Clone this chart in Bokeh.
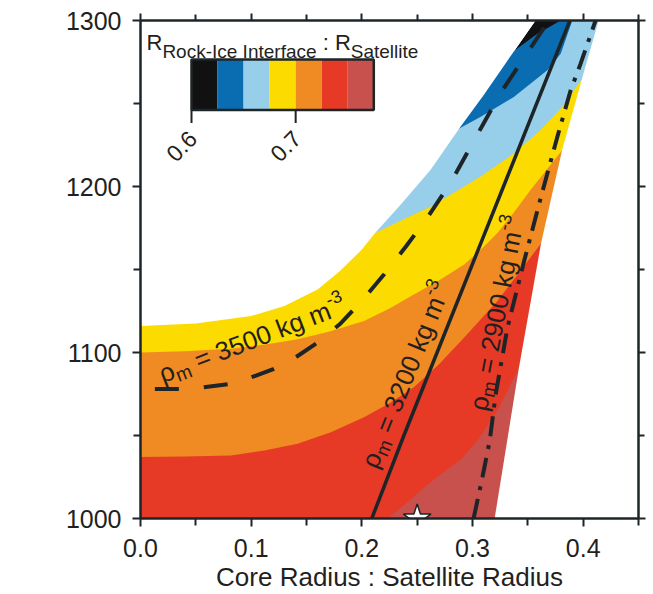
import math
from bokeh.plotting import figure
from bokeh.models import Label, FixedTicker, NumeralTickFormatter, LinearAxis
from bokeh.embed import file_html
from bokeh.resources import INLINE

# ---------------- data ----------------
x_major_ticks = [0.0, 0.1, 0.2, 0.3, 0.4]
x_minor_ticks = [0.05, 0.15, 0.25, 0.35, 0.45]
y_major_ticks = [1000, 1100, 1200, 1300]
y_minor_ticks = [1050, 1150, 1250]

levels = [0.6, 0.625, 0.65, 0.675, 0.7, 0.725, 0.75, 0.775]
band_colors = ["#111111", "#0a6cb1", "#97cfeb", "#fcdb00", "#f08a22", "#e63a27", "#c8504d"]
colorbar_tick_values = [0.6, 0.7]
colorbar_tick_labels = ["0.6", "0.7"]

# edge of the computed domain (upper-left) and right edge
outer_x = [0.0, 0.05, 0.10, 0.13, 0.16, 0.18, 0.20, 0.212, 0.235, 0.262, 0.288, 0.31, 0.338, 0.357]
outer_y = [1116, 1117.5, 1122, 1128, 1138, 1149, 1162, 1172, 1189, 1210, 1235, 1255, 1282, 1300]
right_x = [0.320, 0.342, 0.362, 0.381, 0.399, 0.414]
right_y = [1000, 1091, 1166, 1222, 1265, 1300]

# contour boundaries (value increases below/right of each)
b625_x = [0.338, 0.3586, 0.3797]
b625_y = [1282, 1292, 1300]
b650_x = [0.288, 0.3075, 0.3376, 0.3676, 0.3797, 0.3902]
b650_y = [1235, 1242, 1254, 1270, 1280, 1300]
b675_x = [0.212, 0.237, 0.2624, 0.285, 0.3075, 0.3376, 0.3616, 0.3812, 0.3992]
b675_y = [1172, 1180, 1188, 1197, 1206, 1220, 1234, 1248, 1265]
b700_x = [0.0, 0.04, 0.082, 0.12, 0.142, 0.17, 0.202, 0.225, 0.247, 0.27, 0.2925, 0.31, 0.3225, 0.337, 0.3526, 0.3812]
b700_y = [1100, 1100.8, 1102.2, 1105.5, 1108, 1112.5, 1119, 1126.5, 1135, 1143.5, 1153, 1163.5, 1172, 1184, 1198, 1222]
b725_x = [0.0, 0.04, 0.082, 0.112, 0.142, 0.172, 0.202, 0.225, 0.247, 0.27, 0.2925, 0.3075, 0.3225, 0.342, 0.3622]
b725_y = [1037, 1037.3, 1038, 1041, 1045, 1052, 1061, 1069.5, 1079, 1093, 1109, 1120, 1131, 1148, 1166]
b750_x = [0.223, 0.238, 0.2534, 0.27, 0.2895, 0.3045, 0.3225, 0.3421]
b750_y = [1000, 1008, 1017, 1026, 1035.5, 1047, 1065, 1091]

# mantle-density curves
rho3500_x = [0.013, 0.035, 0.057, 0.080, 0.100, 0.120, 0.140, 0.160, 0.180, 0.200, 0.220,
             0.240, 0.260, 0.280, 0.295, 0.310, 0.325, 0.340, 0.355, 0.369]
rho3500_y = [1078, 1078, 1079, 1081, 1085, 1090, 1097, 1106, 1117, 1131, 1147,
             1164, 1182, 1202, 1220, 1238, 1256, 1271, 1286, 1300]
rho3200_x = [0.209, 0.238, 0.268, 0.298, 0.328, 0.358, 0.388]
rho3200_y = [1000, 1050, 1100, 1150, 1200, 1250, 1300]
rho2900_x = [0.301, 0.309, 0.3156, 0.321, 0.3316, 0.3466, 0.3616, 0.3767, 0.3887, 0.3977, 0.4112]
rho2900_y = [1000, 1025, 1047, 1075, 1115, 1155, 1193, 1230, 1258, 1274, 1300]

star_x = [0.25]
star_y = [1000]

x_axis_title = "Core Radius : Satellite Radius"

# ---------------- layout / style ----------------
X0, X1, Y0, Y1 = 0.0, 0.45, 1000, 1300
FRAME_L, FRAME_R, FRAME_T, FRAME_B = 140, 638, 20, 518   # pixels on the page
W, H = 653, 594
FONT = "Liberation Sans"
INK = "#1e2528"
TXT = "#231f20"

def to_data(px, py):
    x = X0 + (px - FRAME_L) / (FRAME_R - FRAME_L) * (X1 - X0)
    y = Y1 - (py - FRAME_T) / (FRAME_B - FRAME_T) * (Y1 - Y0)
    return x, y

p = figure(width=W, height=H, x_range=(X0, X1), y_range=(Y0, Y1),
           output_backend="svg", toolbar_location=None, title=None,
           x_axis_location=None, y_axis_location=None,
           min_border_left=FRAME_L, min_border_right=W - FRAME_R,
           min_border_top=FRAME_T, min_border_bottom=H - FRAME_B)
p.grid.visible = False
p.outline_line_color = None
p.background_fill_color = "white"
p.border_fill_color = "white"

# ---------------- filled bands (painter's order) ----------------
EXT_L, EXT_R, EXT_B, EXT_T = -0.05, 0.5, 990, 1310
domain_x = list(outer_x) + list(reversed(right_x)) + [0.0]
domain_y = list(outer_y) + list(reversed(right_y)) + [Y0]
xs, ys = [domain_x], [domain_y]
boundaries = [(b625_x, b625_y), (b650_x, b650_y), (b675_x, b675_y),
              (b700_x, b700_y), (b725_x, b725_y), (b750_x, b750_y)]
for bx, by in boundaries:
    xs.append(list(bx) + [EXT_R, EXT_R, EXT_L, EXT_L])
    ys.append(list(by) + [by[-1], EXT_B, EXT_B, by[0]])
p.patches(xs, ys, fill_color=band_colors, line_color=None)

# white masks outside the computed domain
mask_ul_x = [EXT_L] + list(outer_x) + [EXT_L]
mask_ul_y = [outer_y[0]] + list(outer_y) + [EXT_T]
mask_r_x = list(right_x) + [EXT_R, EXT_R, right_x[0]]
mask_r_y = list(right_y) + [EXT_T, EXT_B, EXT_B]
p.patches([mask_ul_x, mask_r_x], [mask_ul_y, mask_r_y], fill_color="white", line_color=None)

# ---------------- curves ----------------
p.line(rho3500_x, rho3500_y, line_color=INK, line_width=4, line_dash="24 25")
p.line(rho3200_x, rho3200_y, line_color=INK, line_width=3.5)
p.line(rho2900_x, rho2900_y, line_color=INK, line_width=4, line_dash="20 9 4 9")

# star marker
p.scatter(star_x, star_y, marker="star", size=29, fill_color="white", line_color=INK, line_width=1.5)

# ---------------- axes ----------------
bottom_axis, left_axis, top_axis, right_axis = LinearAxis(), LinearAxis(), LinearAxis(), LinearAxis()
p.add_layout(bottom_axis, "below")
p.add_layout(left_axis, "left")
p.add_layout(top_axis, "above")
p.add_layout(right_axis, "right")

def style_axis(ax, major, minor, show):
    ax.ticker = FixedTicker(ticks=major, minor_ticks=minor)
    ax.axis_line_color = INK
    ax.axis_line_width = 2.5
    ax.major_tick_line_color = INK
    ax.minor_tick_line_color = INK
    ax.major_tick_line_width = 2
    ax.minor_tick_line_width = 2
    ax.major_tick_in = 0
    ax.minor_tick_in = 0
    ax.major_tick_out = 8 if show else 7
    ax.minor_tick_out = 7 if show else 6
    ax.major_label_text_font = FONT
    if show:
        ax.major_label_text_color = TXT
        ax.major_label_text_font_size = "25px"
        ax.major_label_standoff = 12
    else:
        ax.major_label_text_color = None
        ax.major_label_text_font_size = "1px"
        ax.major_label_standoff = 0

style_axis(bottom_axis, x_major_ticks, x_minor_ticks, True)
style_axis(left_axis, y_major_ticks, y_minor_ticks, True)
style_axis(top_axis, x_major_ticks, x_minor_ticks, False)
style_axis(right_axis, y_major_ticks, y_minor_ticks, False)
left_axis.major_label_standoff = 11
bottom_axis.formatter = NumeralTickFormatter(format="0.0")
left_axis.formatter = NumeralTickFormatter(format="0")
bottom_axis.axis_label = x_axis_title
bottom_axis.axis_label_text_font = FONT
bottom_axis.axis_label_text_font_size = "26px"
bottom_axis.axis_label_text_font_style = "normal"
bottom_axis.axis_label_text_color = TXT
bottom_axis.axis_label_standoff = 2

# ---------------- rich text helpers ----------------
AW = {' ': .278, '=': .584, 'k': .5, 'g': .556, 'm': .833, '-': .333, 'ρ': .578, 'I': .278,
      'c': .5, 'e': .556, 'D': .722, 'n': .556, 's': .5, 'i': .222, 't': .278, 'y': .5,
      '[': .278, ']': .278, 'R': .722, 'o': .556, 'r': .333, 'f': .278, 'a': .556, 'l': .222,
      'S': .667, ':': .278, '.': .278, 'C': .722, 'd': .556, 'u': .556}
def tw(text, size):
    return sum(AW.get(ch, .556) for ch in text) * size

def add_label(px, py, text, size, angle=0, align="left", baseline="alphabetic"):
    x, y = to_data(px, py)
    p.add_layout(Label(x=x, y=y, text=text, angle=angle, angle_units="deg",
                       text_font=FONT, text_font_size=f"{size}px", text_color=TXT,
                       text_align=align, text_baseline=baseline))

def rich(pieces, sx, sy, angle):
    th = math.radians(angle)
    dx, dy = math.cos(th), -math.sin(th)
    ux, uy = -math.sin(th), -math.cos(th)
    adv = 0.0
    for text, size, rise in pieces:
        lead = len(text) - len(text.lstrip(" "))
        adv += tw(" " * lead, size)
        body = text.strip(" ")
        add_label(sx + adv * dx + rise * ux, sy + adv * dy + rise * uy, body, size, angle)
        adv += tw(text[lead:], size)

def rich_centered(pieces, cx, cy, angle, mid=9):
    th = math.radians(angle)
    dx, dy = math.cos(th), -math.sin(th)
    ux, uy = -math.sin(th), -math.cos(th)
    L = sum(tw(t, s) for t, s, _ in pieces)
    sx = cx - L / 2 * dx - mid * ux
    sy = cy - L / 2 * dy - mid * uy
    rich(pieces, sx, sy, angle)

def rho_label(value):
    return [("ρ", 26, 0), ("m", 19, -7), (f" = {value} kg m", 26, 0), ("-3", 18, 10)]

rich_centered(rho_label(3500), 248.5, 330.5, 21)
rich_centered(rho_label(3200), 397.0, 371.0, 68)
rich_centered(rho_label(2900), 487.5, 311.0, 79)

# y axis title (with superscript)
ylab = [("Ice Density [kg m", 26, 0), ("-3", 18, 10), ("]", 26, 0)]
Ly = sum(tw(t, s) for t, s, _ in ylab)
rich(ylab, 37.5, 270 + Ly / 2, 90)

# ---------------- colour-bar legend ----------------
CB_L, CB_R, CB_T, CB_B = 191, 373.3, 59, 109.5
def cb_px(v):
    return CB_L + (v - levels[0]) / (levels[-1] - levels[0]) * (CB_R - CB_L)
q_left = [to_data(cb_px(v), 0)[0] for v in levels[:-1]]
q_right = [to_data(cb_px(v), 0)[0] for v in levels[1:]]
cb_top = to_data(0, CB_T)[1]
cb_bot = to_data(0, CB_B)[1]
p.quad(left=q_left, right=q_right, top=cb_top, bottom=cb_bot, fill_color=band_colors, line_color=None)
p.quad(left=[q_left[0]], right=[q_right[-1]], top=cb_top, bottom=cb_bot,
       fill_color=None, line_color=INK, line_width=2.5)
tick_x = [to_data(cb_px(v), 0)[0] for v in colorbar_tick_values]
tick_y1 = to_data(0, CB_B + 13)[1]
p.segment(x0=tick_x, y0=[cb_bot] * len(tick_x), x1=tick_x, y1=[tick_y1] * len(tick_x),
          line_color=INK, line_width=2)
for v, t in zip(colorbar_tick_values, colorbar_tick_labels):
    add_label(cb_px(v) + 1, 134, t, 23, angle=45, align="right", baseline="middle")

rich([("R", 22, 0), ("Rock-Ice Interface", 19, -8.5), (" : ", 22, 0), ("R", 22, 0),
      ("Satellite", 19, -8.5)], 146, 42, 0)

open("out.html", "w").write(file_html(p, INLINE))
